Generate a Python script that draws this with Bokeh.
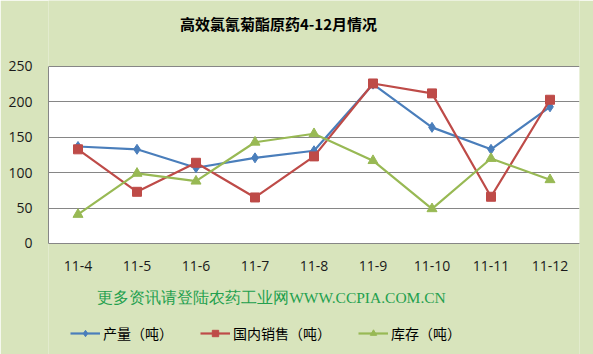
from bokeh.plotting import figure
from bokeh.models import FactorRange, Range1d, FixedTicker, Label, Legend, LegendItem, BoxAnnotation
from bokeh.embed import file_html
from bokeh.resources import INLINE

months = ["11-4", "11-5", "11-6", "11-7", "11-8", "11-9", "11-10", "11-11", "11-12"]
production = [137, 133, 107, 121, 131, 225, 164, 133, 193]
domestic_sales = [133, 73, 114, 65, 123, 226, 212, 66, 203]
inventory = [41, 99, 88, 143, 155, 117, 49, 120, 90]
y_ticks = [0, 50, 100, 150, 200, 250]
title_text = "高效氯氰菊酯原药4-12月情况"
source_text = "更多资讯请登陆农药工业网WWW.CCPIA.COM.CN"
series_names = ["产量（吨）", "国内销售（吨）", "库存（吨）"]

BG = "#d8e4bc"
BLUE = "#4a7ebb"
RED = "#be4b48"
GREEN = "#98b954"

# frame spans full height; value axis 0..250 occupies the middle band
p = figure(width=593, height=354, x_range=FactorRange(*months, range_padding=0),
           y_range=Range1d(-156.8, 343.2), output_backend="svg", toolbar_location=None,
           title=None,
           min_border_left=48, min_border_right=14, min_border_top=0, min_border_bottom=0)
p.background_fill_color = BG
p.border_fill_color = BG
p.outline_line_color = None

p.add_layout(BoxAnnotation(bottom=0, top=250, fill_color="white", fill_alpha=1,
                           line_color=None, level="image"))

p.yaxis.ticker = FixedTicker(ticks=y_ticks)
p.yaxis.bounds = (0, 250)
p.xaxis.fixed_location = 0
for ax in (p.xaxis[0], p.yaxis[0]):
    ax.axis_line_color = "#868686"
    ax.major_tick_line_color = None
    ax.minor_tick_line_color = None
    ax.major_label_text_font = "Open Sans"
    ax.major_label_text_font_size = "14px"
    ax.major_label_text_color = "#1a1a1a"
p.yaxis.major_label_standoff = 10
p.xaxis.major_label_standoff = 12
p.xgrid.grid_line_color = None
p.ygrid.ticker = FixedTicker(ticks=y_ticks)
p.ygrid.grid_line_color = "#868686"
p.ygrid.grid_line_width = 1

l1 = p.line(months, production, line_color=BLUE, line_width=2.2)
m1 = p.scatter(months, production, marker="diamond", size=10, fill_color=BLUE, line_color=BLUE)
l2 = p.line(months, domestic_sales, line_color=RED, line_width=2.2)
m2 = p.scatter(months, domestic_sales, marker="square", size=9, fill_color=RED, line_color=RED)
l3 = p.line(months, inventory, line_color=GREEN, line_width=2.2)
m3 = p.scatter(months, inventory, marker="triangle", size=10, fill_color=GREEN, line_color=GREEN)

p.add_layout(Label(x=230, y=331, x_units="screen", y_units="screen", text=title_text,
                   text_font="Noto Sans CJK SC", text_font_style="bold", text_font_size="15px",
                   text_color="black", text_align="center", text_baseline="middle"))
p.add_layout(Label(x=223, y=57, x_units="screen", y_units="screen", text=source_text,
                   text_font="Liberation Serif", text_font_size="15.5px",
                   text_color="#23a04e", text_align="center", text_baseline="middle"))

legend = Legend(items=[LegendItem(label=series_names[0], renderers=[l1, m1]),
                       LegendItem(label=series_names[1], renderers=[l2, m2]),
                       LegendItem(label=series_names[2], renderers=[l3, m3])],
                orientation="horizontal", location=(22, 11), spacing=27,
                glyph_width=30, glyph_height=16, label_standoff=3, padding=0, margin=0,
                label_text_font="Noto Sans CJK SC", label_text_font_size="14px",
                label_text_color="black", background_fill_alpha=0, border_line_color=None)
p.add_layout(legend, "center")

open("out.html", "w").write(file_html(p, INLINE))
